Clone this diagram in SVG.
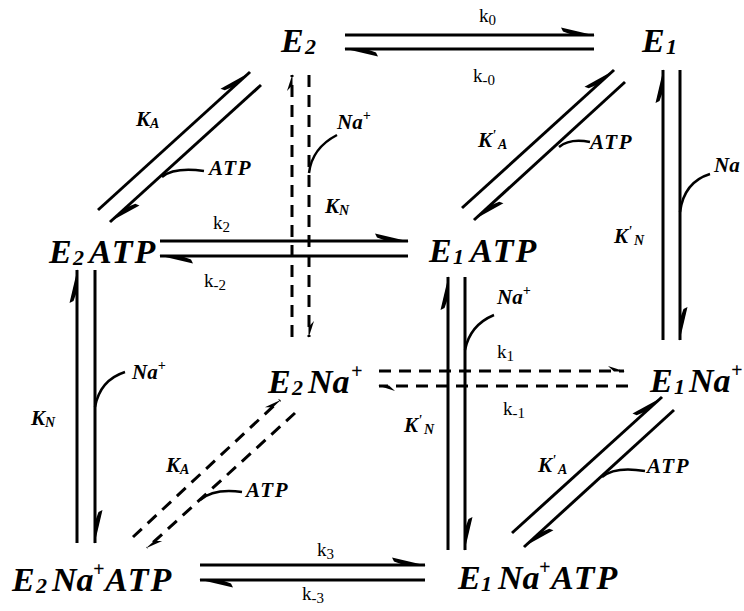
<svg xmlns="http://www.w3.org/2000/svg" width="744" height="611" viewBox="0 0 744 611">
<style>
.n{font-family:"Liberation Serif",serif;font-style:italic;font-weight:bold;font-size:34px}
.sb{font-size:22px}
.sp{font-size:20px}
.w{letter-spacing:2px}
.l{font-family:"Liberation Serif",serif;font-style:italic;font-weight:bold;font-size:21px}
.ls{font-size:14px}
.lw{letter-spacing:1.5px}
.k{font-family:"Liberation Serif",serif;font-size:19px}
.ks{font-size:15px}
.c{fill:none;stroke:#000;stroke-width:3}
.d{stroke-dasharray:12 8}
.lig{fill:none;stroke:#000;stroke-width:2.5}
</style>
<defs>
<marker id="h" viewBox="-36 -9 38 12" refX="0" refY="0" markerWidth="38" markerHeight="12" markerUnits="userSpaceOnUse" orient="auto">
<path d="M1,0.5 L-33,-7.5 L-31,-3.5 L-20,0.5 Z" fill="#000"/>
</marker>
<marker id="hs" viewBox="-20 -8 22 10" refX="0" refY="0" markerWidth="22" markerHeight="10" markerUnits="userSpaceOnUse" orient="auto">
<path d="M1,0.5 L-16,-5 L-10,0.5 Z" fill="#000"/>
</marker>
</defs>

<g id="connectors">
<path class="c" d="M345,35 H594" marker-end="url(#h)"/>
<path class="c" d="M594,49 H345" marker-end="url(#h)"/>
<path class="c" d="M160,241 H408" marker-end="url(#h)"/>
<path class="c" d="M408,256 H160" marker-end="url(#h)"/>
<path class="c" d="M200,565 H425" marker-end="url(#h)"/>
<path class="c" d="M425,580 H200" marker-end="url(#h)"/>
<path class="c d" d="M379,371 H624" marker-end="url(#hs)"/>
<path class="c d" d="M628,386 H379" marker-end="url(#hs)"/>
<path class="c" d="M98,210 L250,72" marker-end="url(#h)"/>
<path class="c" d="M261,85 L110,222" marker-end="url(#h)"/>
<path class="c" d="M462,208 L614,70" marker-end="url(#h)"/>
<path class="c" d="M625,82 L474,220" marker-end="url(#h)"/>
<path class="c d" d="M133,537 L280,400" marker-end="url(#hs)"/>
<path class="c d" d="M295,413 L147,548" marker-end="url(#hs)"/>
<path class="c" d="M512,533 L662,397" marker-end="url(#h)"/>
<path class="c" d="M674,410 L524,547" marker-end="url(#h)"/>
<path class="c d" d="M292,337 V75" marker-end="url(#hs)"/>
<path class="c d" d="M309,75 V337" marker-end="url(#hs)"/>
<path class="c" d="M77,543 V270" marker-end="url(#h)"/>
<path class="c" d="M95,270 V543" marker-end="url(#h)"/>
<path class="c" d="M448,550 V277" marker-end="url(#h)"/>
<path class="c" d="M465,277 V550" marker-end="url(#h)"/>
<path class="c" d="M663,340 V70" marker-end="url(#h)"/>
<path class="c" d="M680,70 V340" marker-end="url(#h)"/>
<path class="lig" d="M162,177 Q174,167 204,171"/>
<path class="lig" d="M559,147 Q570,138 590,142"/>
<path class="lig" d="M602,477 Q615,466 645,471"/>
<path class="lig" d="M200,500 Q214,488 242,492"/>
<path class="lig" d="M309,173 Q312,148 337,135"/>
<path class="lig" d="M95,407 Q100,380 125,372"/>
<path class="lig" d="M465,350 Q470,325 494,315"/>
<path class="lig" d="M680,212 Q684,182 710,174"/>
</g>

<g id="labels">
<text class="k" x="479" y="22">k<tspan class="ks" dy="3">0</tspan></text>
<text class="k" x="473" y="82">k<tspan class="ks" dy="3">-0</tspan></text>
<text class="k" x="213" y="229">k<tspan class="ks" dy="3">2</tspan></text>
<text class="k" x="204" y="287">k<tspan class="ks" dy="3">-2</tspan></text>
<text class="k" x="497" y="358">k<tspan class="ks" dy="3">1</tspan></text>
<text class="k" x="503" y="415">k<tspan class="ks" dy="3">-1</tspan></text>
<text class="k" x="317" y="556">k<tspan class="ks" dy="3">3</tspan></text>
<text class="k" x="302" y="600">k<tspan class="ks" dy="3">-3</tspan></text>

<text class="l" x="136" y="126">K<tspan class="ls" dy="2">A</tspan></text>
<text class="l lw" x="209" y="175">ATP</text>
<text class="l" x="337" y="129">Na<tspan class="ls" dy="-9">+</tspan></text>
<text class="l" x="325" y="213">K<tspan class="ls" dy="2">N</tspan></text>
<text class="l" x="478" y="147">K<tspan class="ls" dy="-7">'</tspan><tspan class="ls" dy="9" dx="2">A</tspan></text>
<text class="l lw" x="590" y="149">ATP</text>
<text class="l" x="714" y="172">Na</text>
<text class="l" x="614" y="243">K<tspan class="ls" dy="-7">'</tspan><tspan class="ls" dy="9" dx="2">N</tspan></text>
<text class="l" x="31" y="425">K<tspan class="ls" dy="2">N</tspan></text>
<text class="l" x="132" y="379">Na<tspan class="ls" dy="-9">+</tspan></text>
<text class="l" x="404" y="432">K<tspan class="ls" dy="-7">'</tspan><tspan class="ls" dy="9" dx="2">N</tspan></text>
<text class="l" x="497" y="304">Na<tspan class="ls" dy="-9">+</tspan></text>
<text class="l" x="166" y="472">K<tspan class="ls" dy="2">A</tspan></text>
<text class="l lw" x="246" y="497">ATP</text>
<text class="l" x="538" y="472">K<tspan class="ls" dy="-7">'</tspan><tspan class="ls" dy="9" dx="2">A</tspan></text>
<text class="l lw" x="647" y="473">ATP</text>
</g>

<g id="E2"><text class="n" y="52"><tspan x="281">E</tspan><tspan class="sb" x="305" dy="2">2</tspan></text></g>
<g id="E1"><text class="n" y="52"><tspan x="642">E</tspan><tspan class="sb" x="666" dy="2">1</tspan></text></g>
<g id="E2ATP"><text class="n" y="263"><tspan x="49">E</tspan><tspan class="sb" x="73" dy="2">2</tspan><tspan class="w" x="89" dy="-2">ATP</tspan></text></g>
<g id="E1ATP"><text class="n" y="262"><tspan x="429">E</tspan><tspan class="sb" x="453" dy="2">1</tspan><tspan class="w" x="470" dy="-2">ATP</tspan></text></g>
<g id="E2Na"><text class="n" y="393"><tspan x="268">E</tspan><tspan class="sb" x="292" dy="2">2</tspan><tspan x="308" dy="-2">Na</tspan><tspan class="sp" x="351" dy="-15">+</tspan></text></g>
<g id="E1Na"><text class="n" y="392"><tspan x="650">E</tspan><tspan class="sb" x="674" dy="2">1</tspan><tspan x="689" dy="-2">Na</tspan><tspan class="sp" x="731" dy="-15">+</tspan></text></g>
<g id="E2NaATP"><text class="n" y="591"><tspan x="12">E</tspan><tspan class="sb" x="36" dy="2">2</tspan><tspan x="52" dy="-2">Na</tspan><tspan class="sp" x="93" dy="-15">+</tspan><tspan class="w" x="105" dy="15">ATP</tspan></text></g>
<g id="E1NaATP"><text class="n" y="589"><tspan x="458">E</tspan><tspan class="sb" x="481" dy="2">1</tspan><tspan x="498" dy="-2">Na</tspan><tspan class="sp" x="539" dy="-15">+</tspan><tspan class="w" x="551" dy="15">ATP</tspan></text></g>
</svg>
